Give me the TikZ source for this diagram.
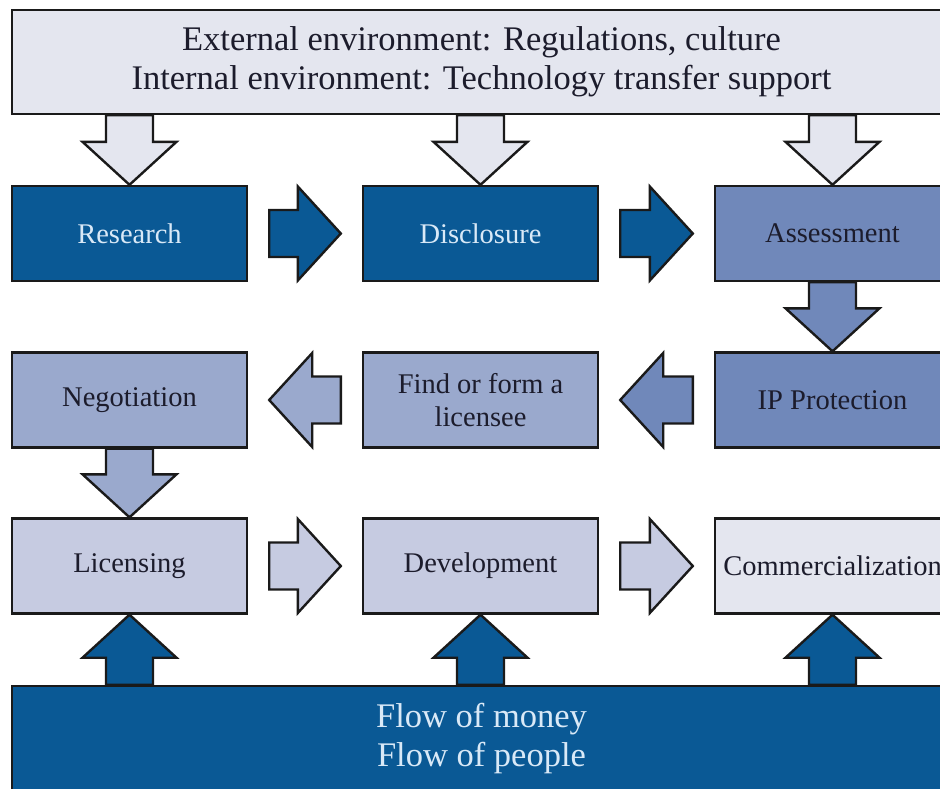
\documentclass[tikz,border=0pt]{standalone}
\usepackage{fontspec}
\setmainfont{Liberation Serif}
\usetikzlibrary{calc}

\definecolor{deepblue}{HTML}{0A5995}
\definecolor{midblue}{HTML}{7088BA}
\definecolor{softblue}{HTML}{9AA9CD}
\definecolor{paleblue}{HTML}{C6CBE1}
\definecolor{mistblue}{HTML}{E4E6EF}
\definecolor{edge}{HTML}{1A1A1A}
\definecolor{lighttext}{HTML}{D9E9F7}
\definecolor{darktext}{HTML}{1C1C2C}

\tikzset{
  stage/.style={draw=edge, line width=2.4pt, minimum width=235pt, minimum height=95pt,
    inner sep=0pt, align=center, font=\fontsize{28.5}{33}\selectfont, text=darktext},
  band/.style={draw=edge, line width=2.4pt, minimum width=939pt, inner sep=0pt,
    align=center, font=\fontsize{34.5}{39}\selectfont},
  barrow/.style={draw=edge, line width=2.4pt, line join=miter},
}

% block arrow from a tail point to a tip point
\newcommand{\blockarrow}[3]{%
  \coordinate (bah) at ($(#3)!43pt!(#2)$);
  \filldraw[barrow,#1]
    ($(#2)!23.5pt!90:(#3)$) -- ($(bah)!23.5pt!-90:(#2)$) -- ($(bah)!47pt!-90:(#2)$) --
    (#3) -- ($(bah)!47pt!90:(#2)$) -- ($(bah)!23.5pt!90:(#2)$) --
    ($(#2)!23.5pt!-90:(#3)$) -- cycle;
}
% block arrow between two boxes, leaving a gap at both ends
\newcommand{\gaparrow}[3]{%
  \coordinate (bat) at ($(#2)!21pt!(#3)$);
  \coordinate (bap) at ($(#3)!21pt!(#2)$);
  \blockarrow{#1}{bat}{bap}%
}

\begin{document}
\begin{tikzpicture}[x=1pt, y=-1pt]
\useasboundingbox (0,0) rectangle (940,788);
\clip (0,0) rectangle (940,788);

% environment band and resource band
\node[band, fill=mistblue, minimum height=104pt, text=darktext] (env) at (481.5,62)
  {External environment: Regulations, culture\\Internal environment: Technology transfer support};
\node[band, fill=deepblue, minimum height=116pt, text=lighttext] (flow) at (481.5,744)
  {};
\node[font=\fontsize{34.5}{39}\selectfont, text=lighttext, align=center] (flowtext) at (481.5,738.5)
  {Flow of money\\Flow of people};

% process stages
\node[stage, fill=deepblue, text=lighttext] (res) at (129.5,233.5) {Research};
\node[stage, fill=deepblue, text=lighttext] (dis) at (480.5,233.5) {Disclosure};
\node[stage, fill=midblue] (ass) at (832.5,233.5) {Assessment};
\node[stage, fill=softblue] (neg) at (129.5,400) {Negotiation};
\node[stage, fill=softblue] (fin) at (480.5,400) {Find or form a\\licensee};
\node[stage, fill=midblue] (ipp) at (832.5,400) {IP Protection};
\node[stage, fill=paleblue] (lic) at (129.5,566) {Licensing};
\node[stage, fill=paleblue] (dev) at (480.5,566) {Development};
\node[stage, fill=mistblue] (com) at (832.5,566) {Commercialization};

% environment influences
\coordinate (e1) at (res.north |- env.south);
\coordinate (e2) at (dis.north |- env.south);
\coordinate (e3) at (ass.north |- env.south);
\blockarrow{fill=mistblue}{e1}{res.north}
\blockarrow{fill=mistblue}{e2}{dis.north}
\blockarrow{fill=mistblue}{e3}{ass.north}

% process flow
\gaparrow{fill=deepblue}{res.east}{dis.west}
\gaparrow{fill=deepblue}{dis.east}{ass.west}
\blockarrow{fill=midblue}{ass.south}{ipp.north}
\gaparrow{fill=midblue}{ipp.west}{fin.east}
\gaparrow{fill=softblue}{fin.west}{neg.east}
\blockarrow{fill=softblue}{neg.south}{lic.north}
\gaparrow{fill=paleblue}{lic.east}{dev.west}
\gaparrow{fill=paleblue}{dev.east}{com.west}

% resource inputs
\coordinate (f1) at (lic.south |- flow.north);
\coordinate (f2) at (dev.south |- flow.north);
\coordinate (f3) at (com.south |- flow.north);
\blockarrow{fill=deepblue}{f1}{lic.south}
\blockarrow{fill=deepblue}{f2}{dev.south}
\blockarrow{fill=deepblue}{f3}{com.south}
\end{tikzpicture}
\end{document}
